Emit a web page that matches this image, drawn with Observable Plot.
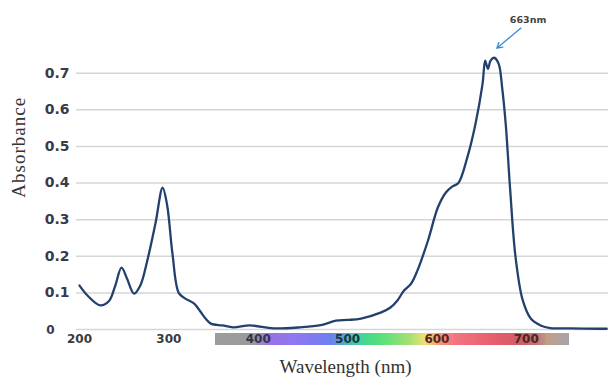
<!DOCTYPE html>
<html>
<head>
<meta charset="utf-8">
<script src="https://cdn.jsdelivr.net/npm/d3@7"></script>
<script src="https://cdn.jsdelivr.net/npm/@observablehq/plot@0.6"></script>
<style>
  html, body { margin: 0; padding: 0; background: #fff; }
  #chart svg { display: block; }
</style>
</head>
<body>
<div id="chart"></div>
<script>
// Absorbance spectrum (wavelength in nm, absorbance)
const wavelength = [200,210,223,233,240,247,253,261,268,276,285,293,298,304,311,318,328,335,341,347,360,372,391,417,447,470,487,500,515,537,548,556,563,571,578,590,601,610,617,624,634,643,651,654,657,660,664,669,673,677,682,688,696,705,716,727,750,783,790];
const absorbance = [0.12,0.09,0.066,0.078,0.12,0.169,0.14,0.098,0.12,0.19,0.29,0.387,0.34,0.207,0.10,0.085,0.071,0.05,0.03,0.016,0.011,0.006,0.011,0.003,0.006,0.012,0.024,0.026,0.03,0.046,0.06,0.08,0.106,0.125,0.16,0.243,0.333,0.374,0.39,0.40,0.47,0.56,0.67,0.734,0.712,0.734,0.742,0.726,0.66,0.56,0.38,0.197,0.08,0.03,0.011,0.004,0.003,0.002,0.002];

const yTicks = [0.1, 0.2, 0.3, 0.4, 0.5, 0.6, 0.7];
const gridValues = [0, 0.1, 0.2, 0.3, 0.4, 0.5, 0.6, 0.7];
const xTicks = [200, 300, 400, 500, 600, 700];
const xTickColors = ["#3a3a3a", "#3a3a3a", "#33334a", "#22304a", "#5a2222", "#4a2424"];

// visible-spectrum colour bar (wavelength stop, colour)
const spectrumWl = [352, 397, 414, 447, 481, 509, 537, 571, 587, 604, 621, 660, 694, 711, 725, 748];
const spectrumColor = ["#9c9c9c", "#9a9a9e", "#9a72e6", "#8c78f2", "#6c80ee", "#3fd0a2", "#55e07a", "#a8e074", "#f0df72", "#f29476", "#f27482", "#e8606e", "#d25a68", "#c07272", "#c0a088", "#a4a4aa"];

const peakLabel = ["663nm"];
const peakLabelPos = [702, 0.846];
const peakArrow = [694, 0.823, 667, 0.768];

const spectrum = wavelength.map((w, i) => ({w, a: absorbance[i]}));
const colorOf = d3.scaleLinear().domain(spectrumWl).range(spectrumColor).interpolate(d3.interpolateRgb);
const barSteps = d3.range(spectrumWl[0], spectrumWl[spectrumWl.length - 1], 1).map(w => ({w, c: colorOf(w + 0.5)}));
const xt = xTicks.map((v, i) => ({v, c: xTickColors[i]}));

const chart = Plot.plot({
  width: 608,
  height: 383,
  marginLeft: 76,
  marginRight: 0,
  marginTop: 36,
  marginBottom: 54,
  style: {fontFamily: "DejaVu Sans", background: "#fff"},
  x: {domain: [196.6, 792], axis: null},
  y: {domain: [0, 0.8], axis: null},
  marks: [
    Plot.ruleY(gridValues, {stroke: "#d6d6d6", strokeWidth: 1.5}),
    Plot.rect(barSteps, {x1: "w", x2: d => d.w + 1, y1: -0.011, y2: -0.044, fill: "c", shapeRendering: "crispEdges"}),
    Plot.text(yTicks, {y: d => d, text: d => d.toFixed(1), frameAnchor: "left", dx: -7, textAnchor: "end", fontSize: 14, fontWeight: "bold", fill: "#3a3a48"}),
    Plot.text([0], {y: d => d, text: d => String(d), frameAnchor: "left", dx: -22, dy: 1, textAnchor: "end", fontSize: 12, fontWeight: "bold", fill: "#3a3a48"}),
    Plot.text(xt, {x: "v", y: 0, dy: 10, text: d => String(d.v), fill: "c", fontSize: 12, fontWeight: "bold"}),
    Plot.line(spectrum, {x: "w", y: "a", curve: "catmull-rom", stroke: "#24406e", strokeWidth: 2.3}),
    Plot.arrow([peakArrow], {x1: d => d[0], y1: d => d[1], x2: d => d[2], y2: d => d[3], stroke: "#3a8ad8", strokeWidth: 1.3, headLength: 7}),
    Plot.text(peakLabel, {x: peakLabelPos[0], y: peakLabelPos[1], text: d => d, fontSize: 9.5, fontWeight: "bold", fill: "#444"}),
    Plot.text(["Wavelength (nm)"], {frameAnchor: "bottom", dx: 3, dy: 43, text: d => d, fontFamily: "Liberation Serif", fontSize: 19, fill: "#333"}),
    Plot.text(["Absorbance"], {frameAnchor: "left", y: 0.36, dx: -58, rotate: -90, text: d => d, fontFamily: "Liberation Serif", fontSize: 19, fill: "#333"})
  ]
});
document.getElementById("chart").appendChild(chart);
d3.select(chart).selectAll("text").filter(function() { return this.textContent === "Absorbance"; }).attr("letter-spacing", "1px");
</script>
</body>
</html>
